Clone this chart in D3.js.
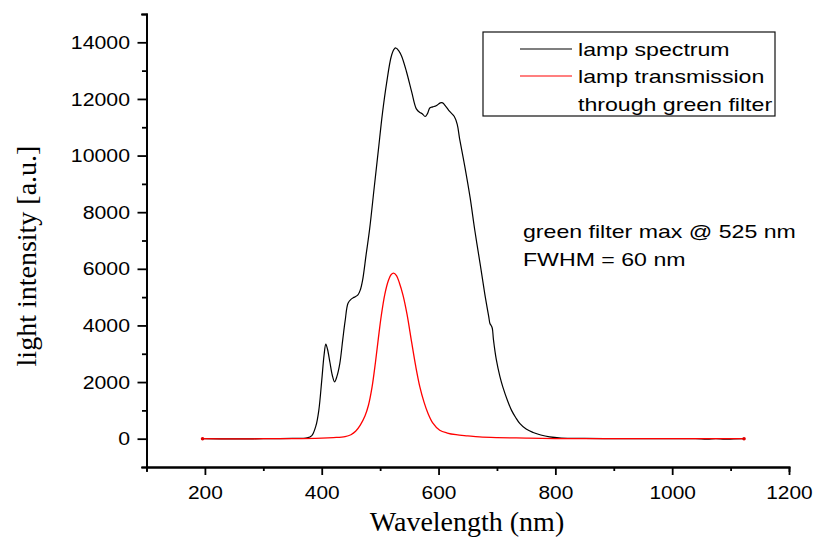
<!DOCTYPE html>
<html>
<head>
<meta charset="utf-8">
<script src="https://cdn.jsdelivr.net/npm/d3@7"></script>
<style>
  body { margin: 0; background: #fff; }
  .axis path, .axis line { stroke: #000; stroke-width: 1.8; }
  .axis text { font-family: "Liberation Sans", Arial, sans-serif; font-size: 19px; fill: #000; }
  .title { font-family: "Liberation Serif", "Times New Roman", serif; font-size: 28px; fill: #000; }
  .note { font-family: "Liberation Sans", Arial, sans-serif; font-size: 18.5px; fill: #000; }
</style>
</head>
<body>
<div id="chart"></div>
<script>
// lamp spectrum (black)
var lampNm = [196, 250, 300, 350, 375, 383, 390, 395, 400, 404, 407, 410, 414, 418, 422, 426, 431, 436, 440, 445,
  450, 456, 462, 466, 470, 476, 482, 490, 497, 504, 511, 519, 524, 527, 532, 537, 545, 554, 562, 568,
  572, 577, 581, 585, 590, 596, 603, 607, 612, 619, 627, 632, 636, 645, 654, 662, 671, 679, 686, 688,
  690, 692, 694, 699, 705, 710, 718, 725, 732, 739, 750, 762, 775, 790, 810, 850, 900, 950, 1000, 1040,
  1060, 1075, 1090, 1105, 1123];
var lampVal = [0, -10, 0, 10, 30, 110, 450, 1000, 2050, 2950, 3340, 3150, 2700, 2250, 2010, 2200, 2660, 3500, 4150, 4780,
  4920, 5000, 5080, 5250, 5600, 6500, 7400, 8900, 10200, 11500, 12550, 13500, 13760, 13800, 13700, 13500, 12970, 12250, 11650, 11520,
  11480, 11380, 11480, 11680, 11720, 11760, 11860, 11860, 11750, 11560, 11380, 11100, 10600, 9610, 8520, 7370, 6200, 5130, 4300, 4070,
  4000, 3900, 3500, 2780, 2200, 1830, 1350, 1000, 750, 540, 340, 220, 130, 64, 25, 10, 0, 0, 0, 0,
  -15, 5, -20, -5, 0];

// transmission through the green filter (red)
var filterNm = [196, 250, 300, 350, 400, 420, 440, 450, 458, 466, 474, 480, 486, 492, 497, 502, 508, 514, 519, 523,
  528, 533, 539, 546, 554, 561, 568, 575, 582, 590, 602, 615, 630, 650, 670, 700, 750, 800, 850, 900,
  1000, 1123];
var filterVal = [0, -10, 0, 0, 20, 40, 75, 140, 260, 480, 800, 1180, 1800, 2700, 3550, 4350, 5100, 5580, 5800, 5850,
  5760, 5500, 5080, 4400, 3400, 2550, 1830, 1300, 890, 560, 300, 200, 140, 100, 64, 40, 20, 5, 0, 0,
  0, 0];

var xMajor = [200, 400, 600, 800, 1000, 1200];
var xMinor = [100, 300, 500, 700, 900, 1100];
var yMajor = [0, 2000, 4000, 6000, 8000, 10000, 12000, 14000];
var yMinor = [-1000, 1000, 3000, 5000, 7000, 9000, 11000, 13000, 15000];

var legendLabels = ["lamp spectrum", "lamp transmission", "through green filter"];
var noteLines = ["green filter max @ 525 nm", "FWHM = 60 nm"];

var width = 815, height = 545;

var svg = d3.select("#chart").append("svg")
    .attr("width", width)
    .attr("height", height);

var x = d3.scaleLinear().domain([100, 1200]).range([146.5, 789]);
var y = d3.scaleLinear().domain([-1000, 15000]).range([467, 14]);

function series(nm, val) {
  return nm.map(function(d, i) { return [d, val[i]]; });
}

var line = d3.line()
    .x(function(d) { return x(d[0]); })
    .y(function(d) { return y(d[1]); })
    .curve(d3.curveCatmullRom.alpha(0.5));

// axes: minor ticks first, then the labelled ones
svg.append("g")
    .attr("class", "axis")
    .attr("transform", "translate(0," + y.range()[0] + ")")
    .call(d3.axisBottom(x).tickValues(xMinor).tickSize(4).tickFormat(""));

var xAxis = svg.append("g")
    .attr("class", "axis")
    .attr("transform", "translate(0," + y.range()[0] + ")")
    .call(d3.axisBottom(x).tickValues(xMajor).tickSizeInner(8).tickSizeOuter(0).tickPadding(11).tickFormat(d3.format("d")));

svg.append("g")
    .attr("class", "axis")
    .attr("transform", "translate(" + x.range()[0] + ",0)")
    .call(d3.axisLeft(y).tickValues(yMinor).tickSize(4.5).tickFormat(""));

var yAxis = svg.append("g")
    .attr("class", "axis")
    .attr("transform", "translate(" + x.range()[0] + ",0)")
    .call(d3.axisLeft(y).tickValues(yMajor).tickSizeInner(9).tickSizeOuter(0).tickPadding(7.5).tickFormat(d3.format("d")));

// tick labels in the original are a little wider than Arial
xAxis.selectAll(".tick text")
    .attr("transform", "scale(1.1,1)")
    .attr("x", 0);
yAxis.selectAll(".tick text")
    .attr("transform", "translate(-16.5,0) scale(1.12,1)")
    .attr("x", 0);

svg.selectAll(".axis .domain").attr("stroke-linecap", "square");

// curves
var lamp = series(lampNm, lampVal);
var filt = series(filterNm, filterVal);

svg.append("path")
    .datum(lamp)
    .attr("fill", "none")
    .attr("stroke", "#000")
    .attr("stroke-width", 1.2)
    .attr("d", line);

svg.append("path")
    .datum(filt)
    .attr("fill", "none")
    .attr("stroke", "#ff0000")
    .attr("stroke-width", 1.3)
    .attr("d", line);

svg.selectAll(".enddot")
    .data([filt[0], filt[filt.length - 1]])
  .enter().append("circle")
    .attr("cx", function(d) { return x(d[0]); })
    .attr("cy", function(d) { return y(d[1]); })
    .attr("r", 1.8)
    .attr("fill", "#e00000");

// axis titles
svg.append("text")
    .attr("class", "title")
    .attr("x", 467)
    .attr("y", 531)
    .attr("text-anchor", "middle")
    .text("Wavelength (nm)");

svg.append("text")
    .attr("class", "title")
    .attr("transform", "translate(36,256) rotate(-90)")
    .attr("text-anchor", "middle")
    .text("light intensity [a.u.]");

// legend
var legend = svg.append("g");

legend.append("rect")
    .attr("x", 483)
    .attr("y", 32)
    .attr("width", 292)
    .attr("height", 84)
    .attr("fill", "#fff")
    .attr("stroke", "#111")
    .attr("stroke-width", 1.2);

legend.selectAll(".key")
    .data(["#000", "#ff0000"])
  .enter().append("line")
    .attr("x1", 520)
    .attr("x2", 572)
    .attr("y1", function(d, i) { return 49 + i * 27; })
    .attr("y2", function(d, i) { return 49 + i * 27; })
    .attr("stroke", function(d) { return d; })
    .attr("stroke-width", 1.2);

legend.selectAll(".lbl")
    .data(legendLabels)
  .enter().append("text")
    .attr("class", "note")
    .attr("transform", function(d, i) { return "translate(578," + (56 + i * 27.3) + ") scale(1.25,1)"; })
    .text(function(d) { return d; });

svg.selectAll(".noteline")
    .data(noteLines)
  .enter().append("text")
    .attr("class", "note")
    .attr("transform", function(d, i) { return "translate(523," + (238 + i * 28) + ") scale(1.25,1)"; })
    .text(function(d) { return d; });
</script>
</body>
</html>
